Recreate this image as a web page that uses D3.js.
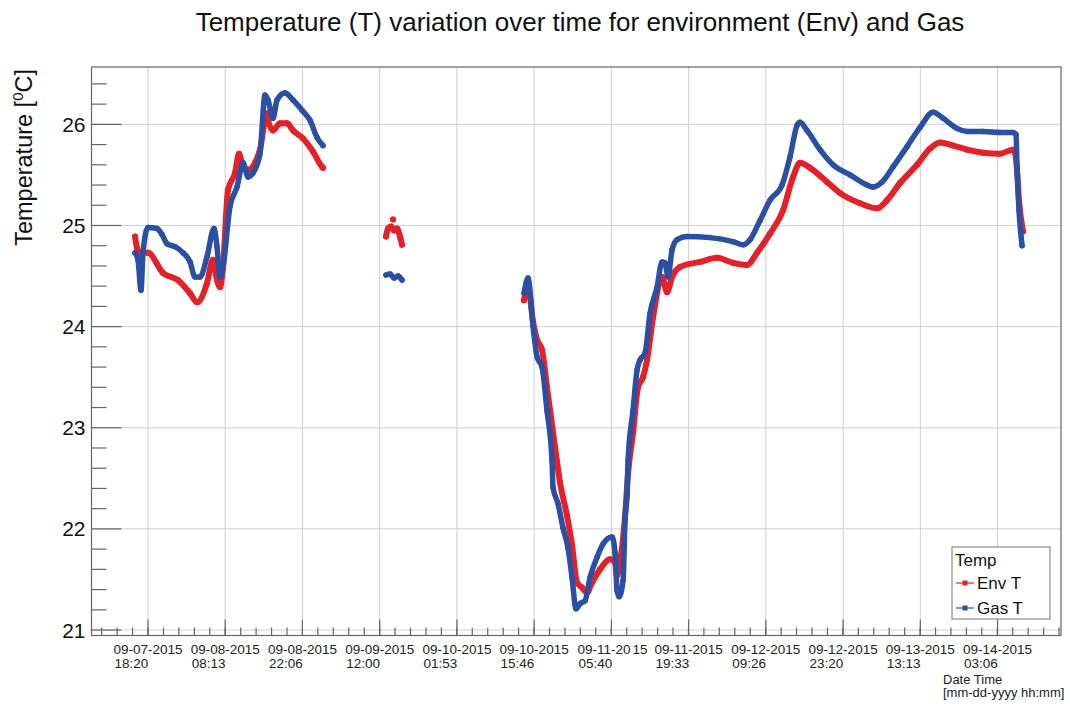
<!DOCTYPE html>
<html>
<head>
<meta charset="utf-8">
<script src="https://cdn.jsdelivr.net/npm/d3@7"></script>
<style>
  html, body { margin: 0; padding: 0; background: #fff; }
  svg { display: block; font-family: "Liberation Sans", Arial, Helvetica, sans-serif; }
</style>
</head>
<body>
<svg id="chart" width="1070" height="705"></svg>
<script>
// ---------------- data (hours elapsed since 2015-09-07 00:00) ----------------
const startDate = "2015-09-07 00:00";
const xDomainHours = [8.17, 182.51];
const yDomain = [20.946, 26.567];
const yMajorTicks = [21, 22, 23, 24, 25, 26];
const xTickLabels = [
  "09-07-2015 18:20", "09-08-2015 08:13", "09-08-2015 22:06", "09-09-2015 12:00",
  "09-10-2015 01:53", "09-10-2015 15:46", "09-11-2015 05:40", "09-11-2015 19:33",
  "09-12-2015 09:26", "09-12-2015 23:20", "09-13-2015 13:13", "09-14-2015 03:06"
];
const seriesNames = ["Env T", "Gas T"];

// null entries separate gaps in the recording
const envHours = [
  16.0, 16.35, 16.9, 18.33, 21.03, 23.73, 25.89, 27.14, 28.94, 30.02, 30.74, 31.28, 31.82,
  32.72, 33.98, 34.70, 35.42, 36.32, 37.58, 38.47, 39.73, 39.91, 40.81, 42.07, 43.33, 44.41,
  46.21, 48.01, 49.62, 49.80, null,
  61.13, 61.49, 62.03, 62.57, 63.11, 63.65, 64.01, null,
  62.39, null,
  85.95, 86.67, 87.57, 88.29, 89.19, 90.08, 91.52, 92.42, 93.68, 94.58, 95.48, 96.38, 97.28,
  98.18, 99.62, 101.42, 102.32, 102.68, 103.40, 104.12, 104.66, 105.55, 106.45, 107.35, 108.07,
  109.15, 110.77, 111.67, 112.57, 114.01, 117.60, 120.66, 123.54, 126.05, 127.85, 130.19,
  132.53, 134.33, 135.58, 137.38, 140.44, 142.78, 146.37, 149.43, 151.23, 153.57, 156.62,
  158.96, 160.76, 163.10, 165.62, 168.49, 171.55, 173.89, 174.25, 174.60, 174.96, 175.68
];
const envTemp = [
  24.89, 24.78, 24.73, 24.73, 24.53, 24.46, 24.33, 24.24, 24.43, 24.66, 24.46, 24.39, 24.59,
  25.35, 25.52, 25.71, 25.58, 25.55, 25.62, 25.75, 26.11, 26.04, 25.94, 26.01, 26.01, 25.94,
  25.86, 25.73, 25.58, 25.57, null,
  24.89, 24.97, 24.99, 24.95, 24.97, 24.89, 24.81, null,
  25.06, null,
  24.26, 24.40, 24.05, 23.87, 23.77, 23.40, 22.81, 22.46, 22.13, 21.84, 21.47, 21.42, 21.37,
  21.47, 21.60, 21.70, 21.67, 21.54, 21.74, 22.13, 22.55, 22.95, 23.40, 23.50, 23.67,
  24.09, 24.49, 24.34, 24.49, 24.59, 24.64, 24.68, 24.63, 24.61, 24.73, 24.92,
  25.15, 25.48, 25.62, 25.57, 25.43, 25.32, 25.22, 25.17, 25.25, 25.42, 25.60,
  25.76, 25.82, 25.79, 25.75, 25.72, 25.71, 25.75, 25.72, 25.55, 25.25, 24.94
];

const gasHours = [
  16.0, 16.53, 17.07, 17.43, 18.33, 19.95, 20.85, 21.75, 23.19, 24.63, 25.89, 26.78, 27.68,
  28.94, 30.20, 30.74, 31.28, 31.82, 33.08, 34.34, 35.42, 36.32, 37.22, 38.47, 39.37, 39.91,
  40.81, 41.53, 42.97, 44.41, 46.03, 47.47, 48.73, 49.80, null,
  61.13, 61.85, 62.57, 63.29, 64.01, null,
  85.95, 86.67, 87.57, 88.29, 89.19, 90.08, 90.98, 91.16, 92.06, 92.96, 93.86, 94.58, 95.30,
  96.02, 96.92, 97.82, 99.08, 100.16, 101.78, 102.32, 102.68, 103.04, 103.76, 104.12, 104.48,
  104.66, 105.55, 106.27, 106.81, 107.71, 108.61, 109.87, 110.77, 111.31, 111.85, 112.57,
  113.47, 115.27, 119.40, 123.54, 125.34, 126.59, 128.39, 130.19, 132.35, 133.79, 135.05,
  135.58, 136.84, 139.18, 141.52, 144.58, 147.63, 148.71, 150.33, 152.31, 154.83, 157.16,
  159.50, 161.30, 163.82, 165.62, 168.49, 171.55, 173.89, 174.43, 174.60, 174.96, 175.50
];
const gasTemp = [
  24.73, 24.66, 24.36, 24.73, 24.98, 24.97, 24.91, 24.82, 24.79, 24.73, 24.64, 24.49, 24.49,
  24.69, 24.97, 24.79, 24.49, 24.59, 25.19, 25.38, 25.62, 25.48, 25.52, 25.71, 26.29, 26.24,
  26.06, 26.24, 26.31, 26.24, 26.14, 26.04, 25.87, 25.79, null,
  24.51, 24.52, 24.48, 24.50, 24.46, null,
  24.33, 24.48, 24.00, 23.70, 23.60, 23.17, 22.68, 22.41, 22.25, 22.01, 21.81, 21.52, 21.21,
  21.26, 21.29, 21.52, 21.72, 21.85, 21.92, 21.76, 21.39, 21.33, 21.49, 22.10, 22.35,
  22.68, 23.17, 23.57, 23.67, 23.74, 24.13, 24.39, 24.64, 24.63, 24.49, 24.76,
  24.86, 24.89, 24.88, 24.84, 24.81, 24.86, 25.05, 25.25, 25.40, 25.68, 25.99,
  26.02, 25.94, 25.75, 25.60, 25.50, 25.40, 25.38, 25.43, 25.58, 25.78, 25.97,
  26.12, 26.06, 25.96, 25.93, 25.93, 25.92, 25.92, 25.90, 25.58, 25.15, 24.80
];

// ---------------- drawing ----------------
const colors = { env: "#e42129", gas: "#2b4fa3" };
const svg = d3.select("#chart");
const m = { left: 91.5, right: 1061, top: 67, bottom: 635.5 };

const t0 = d3.timeParse("%Y-%m-%d %H:%M")(startDate);
const toDate = h => new Date(t0.getTime() + h * 3600 * 1000);

const x = d3.scaleTime().domain(xDomainHours.map(toDate)).range([m.left, m.right]);
const y = d3.scaleLinear().domain(yDomain).range([m.bottom, m.top]);

const parseLabel = d3.timeParse("%m-%d-%Y %H:%M");
const tickDates = xTickLabels.map(parseLabel);

// grid
const grid = svg.append("g");
grid.selectAll("line.vg").data(tickDates).join("line")
  .attr("x1", d => x(d)).attr("x2", d => x(d))
  .attr("y1", m.top).attr("y2", m.bottom)
  .attr("stroke", "#cfcfcf").attr("stroke-width", 1);
grid.selectAll("line.hg").data(yMajorTicks).join("line")
  .attr("x1", m.left).attr("x2", m.right)
  .attr("y1", d => y(d)).attr("y2", d => y(d))
  .attr("stroke", "#cfcfcf").attr("stroke-width", 1);

// series
function pts(hours, temps) {
  return hours.map((h, i) => ({ h, v: temps[i] }));
}
const line = d3.line()
  .defined(d => d.h != null && d.v != null)
  .curve(d3.curveMonotoneX)
  .x(d => x(toDate(d.h))).y(d => y(d.v));

const series = [
  { key: "env", data: pts(envHours, envTemp), w: 6 },
  { key: "gas", data: pts(gasHours, gasTemp), w: 5.5 }
];
series.forEach(s => {
  const g = svg.append("g");
  g.append("path").datum(s.data).attr("d", line)
    .attr("fill", "none").attr("stroke", colors[s.key])
    .attr("stroke-width", s.w).attr("stroke-linejoin", "round").attr("stroke-linecap", "round");
  g.selectAll("circle").data(s.data.filter(d => d.h != null && d.v != null)).join("circle")
    .attr("cx", d => x(toDate(d.h))).attr("cy", d => y(d.v))
    .attr("r", s.w / 2).attr("fill", colors[s.key]);
});

// frame
svg.append("rect").attr("x", m.left).attr("y", m.top)
  .attr("width", m.right - m.left).attr("height", m.bottom - m.top)
  .attr("fill", "none").attr("stroke", "#666").attr("stroke-width", 1.2);

// y axis ticks
const yMinor = d3.range(21, 26.5, 0.2).map(v => +v.toFixed(2));
svg.append("g").selectAll("line").data(yMinor).join("line")
  .attr("x1", m.left).attr("y1", d => y(d)).attr("y2", d => y(d))
  .attr("x2", d => m.left + (Math.abs(d - Math.round(d)) < 1e-6 ? 30 : 15))
  .attr("stroke", "#666").attr("stroke-width", 1.2);
svg.append("g").selectAll("text").data(yMajorTicks).join("text")
  .attr("x", m.left - 6).attr("y", d => y(d)).attr("dy", "0.36em")
  .attr("text-anchor", "end").attr("font-size", 21).attr("fill", "#111")
  .text(d => d);

// x axis ticks
const step = tickDates[1] - tickDates[0];
const minorStep = step / 5;
const xd = x.domain();
const minorTicks = [];
for (let t = tickDates[0].getTime(); t >= xd[0].getTime(); t -= minorStep) minorTicks.push(new Date(t));
for (let t = tickDates[0].getTime() + minorStep; t <= xd[1].getTime(); t += minorStep) minorTicks.push(new Date(t));
svg.append("g").selectAll("line").data(minorTicks).join("line")
  .attr("x1", d => x(d)).attr("x2", d => x(d))
  .attr("y1", m.bottom).attr("y2", m.bottom - 8)
  .attr("stroke", "#666").attr("stroke-width", 1.2);
svg.append("g").selectAll("line").data(tickDates).join("line")
  .attr("x1", d => x(d)).attr("x2", d => x(d))
  .attr("y1", m.bottom).attr("y2", m.bottom - 16)
  .attr("stroke", "#666").attr("stroke-width", 1.2);

const labG = svg.append("g").attr("font-size", 13.5).attr("fill", "#222");
xTickLabels.forEach((lab, i) => {
  const [dPart, tPart] = lab.split(" ");
  const t = labG.append("text").attr("y", 654).attr("x", x(tickDates[i]));
  if (i === 6) {
    t.append("tspan").text(dPart.slice(0, 8));
    t.append("tspan").attr("dx", 2).text(dPart.slice(8));
  } else {
    t.text(dPart);
  }
  const w = t.node().getComputedTextLength();
  const left = x(tickDates[i]) - w / 2;
  t.attr("x", left);
  labG.append("text").attr("x", left + 1).attr("y", 668).text(tPart);
});

// axis titles
svg.append("text").attr("x", 943).attr("y", 684).attr("font-size", 13).attr("fill", "#222").text("Date Time");
svg.append("text").attr("x", 943).attr("y", 697).attr("font-size", 13).attr("fill", "#222").text("[mm-dd-yyyy hh:mm]");

const yl = svg.append("text")
  .attr("transform", `translate(32, ${m.top + 2}) rotate(-90)`)
  .attr("text-anchor", "end").attr("font-size", 23.5).attr("fill", "#111");
yl.append("tspan").text("Temperature [");
yl.append("tspan").attr("font-size", 15).attr("dy", -9).text("0");
yl.append("tspan").attr("dy", 9).text("C]");

// title
svg.append("text").attr("x", 580).attr("y", 31).attr("text-anchor", "middle")
  .attr("font-size", 26).attr("fill", "#111")
  .text("Temperature (T) variation over time for environment (Env) and Gas");

// legend
const lg = svg.append("g");
lg.append("rect").attr("x", 952).attr("y", 547).attr("width", 98).attr("height", 72)
  .attr("fill", "#fff").attr("stroke", "#8a8a8a").attr("stroke-width", 1.2);
lg.append("text").attr("x", 955).attr("y", 566).attr("font-size", 17).attr("fill", "#111").text("Temp");
[["env", 583, 589], ["gas", 608, 614]].forEach(([k, ly, ty], i) => {
  lg.append("line").attr("x1", 956).attr("x2", 974).attr("y1", ly).attr("y2", ly)
    .attr("stroke", colors[k]).attr("stroke-width", 1.2);
  lg.append("rect").attr("x", 962.5).attr("y", ly - 2.5).attr("width", 5).attr("height", 5)
    .attr("fill", colors[k]);
  lg.append("text").attr("x", 977).attr("y", ty).attr("font-size", 17).attr("fill", "#111")
    .text(seriesNames[i]);
});
</script>
</body>
</html>
